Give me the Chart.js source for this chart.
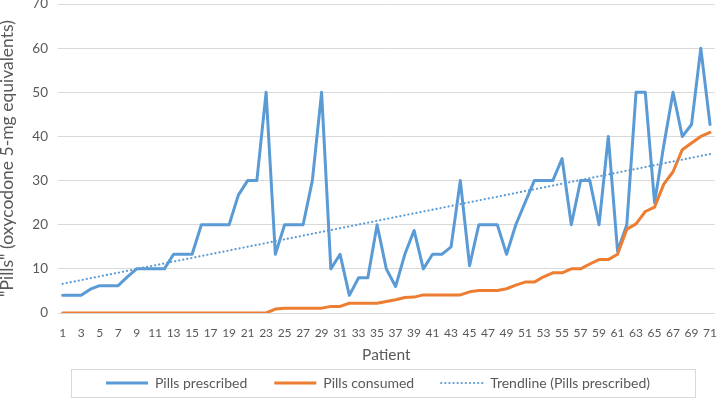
<!DOCTYPE html>
<html>
<head>
<meta charset="utf-8">
<script src="https://cdn.jsdelivr.net/npm/chart.js@4.4.0/dist/chart.umd.min.js"></script>
<style>
  html, body { margin: 0; padding: 0; background: #fff; }
  #wrap { width: 717px; height: 401px; }
</style>
</head>
<body>
<div id="wrap"><canvas id="pillsChart"></canvas></div>
<script>
const patients = ['1','2','3','4','5','6','7','8','9','10','11','12','13','14','15','16','17','18','19','20',
  '21','22','23','24','25','26','27','28','29','30','31','32','33','34','35','36','37','38','39','40',
  '41','42','43','44','45','46','47','48','49','50','51','52','53','54','55','56','57','58','59','60',
  '61','62','63','64','65','66','67','68','69','70','71'];

const pillsPrescribed = [4, 4, 4, 5.4, 6.2, 6.2, 6.2, 8.2, 10, 10, 10, 10, 13.3, 13.3, 13.3, 20, 20, 20, 20, 26.7,
  30, 30, 50, 13.3, 20, 20, 20, 30, 50, 10, 13.3, 4, 8, 8, 20, 10, 6, 13.3, 18.7, 10,
  13.3, 13.3, 15, 30, 10.7, 20, 20, 20, 13.3, 20, 25, 30, 30, 30, 35, 20, 30, 30, 20, 40,
  14, 20, 50, 50, 25, 38, 50, 40, 42.7, 60, 42.7];

const pillsConsumed = [0, 0, 0, 0, 0, 0, 0, 0, 0, 0, 0, 0, 0, 0, 0, 0, 0, 0, 0, 0,
  0, 0, 0, 0.9, 1.1, 1.1, 1.1, 1.1, 1.1, 1.5, 1.5, 2.2, 2.2, 2.2, 2.2, 2.6, 3, 3.5, 3.6, 4.1,
  4.1, 4.1, 4.1, 4.1, 4.8, 5.1, 5.1, 5.1, 5.5, 6.3, 7, 7, 8.2, 9.1, 9.1, 10, 10, 11.1, 12.1, 12.1,
  13.3, 19, 20.2, 23, 24, 29.2, 32, 37, 38.5, 40, 40.9];

const yMin = 0, yMax = 70, yStep = 10;

// least-squares trendline of the prescribed series (as the spreadsheet does)
function linearTrend(values) {
  const n = values.length;
  let sx = 0, sy = 0, sxy = 0, sxx = 0;
  values.forEach((v, i) => { const x = i + 1; sx += x; sy += v; sxy += x * v; sxx += x * x; });
  const slope = (n * sxy - sx * sy) / (n * sxx - sx * sx);
  const icpt = (sy - slope * sx) / n;
  return values.map((v, i) => icpt + slope * (i + 1));
}
const trendPrescribed = linearTrend(pillsPrescribed);

const FONT = "Lato, 'Open Sans', sans-serif";
const GREY = '#595959';
const NONE = 'rgba(0,0,0,0)';

// nudge the legend row and draw the frame round it
const legendFrame = {
  id: 'legendFrame',
  afterLayout(chart) {
    chart.legend.left += 18;
    chart.legend.right += 18;
  },
  afterDraw(chart) {
    const boxes = chart.legend.legendHitBoxes;
    if (!boxes || !boxes.length) return;
    const first = boxes[0], last = boxes[boxes.length - 1];
    const left = first.left - 35, right = last.left + last.width + 45;
    const top = first.top - 7, bottom = first.top + 21;
    const c = chart.ctx;
    c.save();
    c.strokeStyle = '#d9d9d9';
    c.lineWidth = 1;
    c.strokeRect(Math.round(left) + 0.5, Math.round(top) + 0.5, Math.round(right - left), Math.round(bottom - top));
    c.restore();
  }
};

const ctx = document.getElementById('pillsChart').getContext('2d');
new Chart(ctx, {
  type: 'line',
  data: {
    labels: patients,
    datasets: [
      {
        label: 'Pills prescribed',
        data: pillsPrescribed,
        borderColor: '#5b9bd5',
        backgroundColor: '#5b9bd5',
        borderWidth: 3,
        borderJoinStyle: 'round',
        borderCapStyle: 'round',
        pointRadius: 0,
        tension: 0,
        order: 2
      },
      {
        label: 'Pills consumed',
        data: pillsConsumed,
        borderColor: '#ed7d31',
        backgroundColor: '#ed7d31',
        borderWidth: 3,
        borderJoinStyle: 'round',
        borderCapStyle: 'round',
        pointRadius: 0,
        tension: 0,
        order: 1
      },
      {
        label: 'Trendline (Pills prescribed)',
        data: trendPrescribed,
        borderColor: '#5b9bd5',
        backgroundColor: '#5b9bd5',
        borderWidth: 2.2,
        borderDash: [0.1, 4],
        borderCapStyle: 'round',
        pointRadius: 0,
        tension: 0,
        order: 0
      }
    ]
  },
  options: {
    responsive: true,
    maintainAspectRatio: false,
    animation: false,
    layout: { padding: { left: 0, right: -3, top: -9, bottom: 1 } },
    plugins: {
      tooltip: { enabled: false },
      legend: {
        position: 'bottom',
        labels: {
          color: GREY,
          font: { family: FONT, size: 14 },
          usePointStyle: true,
          pointStyle: 'line',
          pointStyleWidth: 42,
          boxWidth: 42,
          boxHeight: 14,
          padding: 27,
          sort: (a, b) => a.datasetIndex - b.datasetIndex,
          generateLabels(chart) {
            const items = Chart.defaults.plugins.legend.labels.generateLabels(chart);
            items.forEach(it => {
              const ds = chart.data.datasets[it.datasetIndex];
              it.lineWidth = ds.borderWidth;
              it.lineDash = ds.borderDash || [];
              it.lineCap = ds.borderDash ? 'round' : 'butt';
              it.strokeStyle = ds.borderColor;
            });
            return items;
          }
        }
      }
    },
    scales: {
      x: {
        offset: true,
        grid: { display: true, drawOnChartArea: false, drawTicks: true, tickLength: 13, color: NONE, tickColor: NONE },
        border: { color: '#d9d9d9' },
        ticks: {
          autoSkip: false,
          maxRotation: 0,
          padding: 0,
          color: GREY,
          font: { family: FONT, size: 12 },
          callback: (v, i) => (i % 2 === 0 ? patients[i] : '')
        },
        title: {
          display: true,
          text: 'Patient',
          color: GREY,
          font: { family: FONT, size: 15.5 },
          padding: { top: 0, bottom: -15 }
        },
        afterFit: (s) => { s.height = 36; }
      },
      y: {
        min: yMin,
        max: yMax,
        grid: { color: '#d9d9d9', drawTicks: true, tickLength: 10, tickColor: NONE },
        border: { display: false },
        ticks: {
          stepSize: yStep,
          padding: 0,
          color: GREY,
          font: { family: FONT, size: 13.5, lineHeight: 0.6 }
        },
        title: {
          display: true,
          text: '"Pills" (oxycodone 5-mg equivalents)',
          color: GREY,
          font: { family: FONT, size: 17.5 },
          padding: { top: -3, bottom: 0 }
        },
        afterFit: (s) => { s.width = 58; }
      }
    }
  },
  plugins: [legendFrame]
});
</script>
</body>
</html>
